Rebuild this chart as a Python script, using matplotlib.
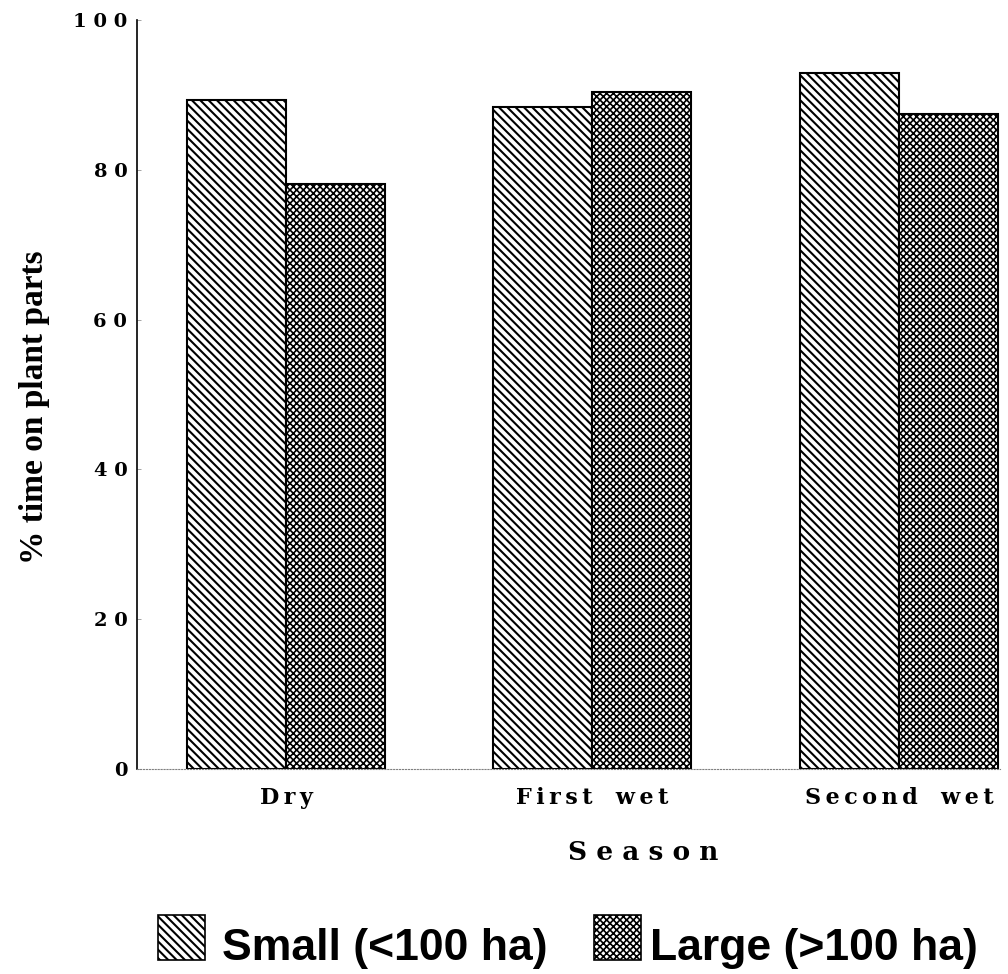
import numpy as np
import matplotlib
matplotlib.use("Agg")
from matplotlib import pyplot as plt
from matplotlib.patches import Rectangle

seasons = ["Dry", "First wet", "Second wet"]
small = [89.3, 88.4, 92.9]
large = [78.1, 90.4, 87.4]
labels = ["Small (<100 ha)", "Large (>100 ha)"]
yticks = [0, 20, 40, 60, 80, 100]

def spaced(s, gap=" ", wgap="  "):
    # wide letter spacing like the original print
    return wgap.join(gap.join(w) for w in s.split(" "))

W, H = 1008, 974
fig = plt.figure(figsize=(W / 100, H / 100), dpi=100)
ax = fig.add_axes([137 / W, 1 - 769 / H, 863 / W, 749 / H])

x = np.arange(len(seasons))
w = 0.323
hatches = ["\\\\\\\\", "xxxxx"]
hlw = [1.5, 1.2]

plt.rcParams["hatch.linewidth"] = hlw[0]
ax.bar(x - w / 2, small, w, facecolor="white", edgecolor="black", linewidth=1.5,
       hatch=hatches[0])
plt.rcParams["hatch.linewidth"] = hlw[1]
ax.bar(x + w / 2, large, w, facecolor="white", edgecolor="black", linewidth=1.5,
       hatch=hatches[1])

ax.set_xlim(-0.486, 2.33)
ax.set_ylim(0, 100)
ax.set_yticks(yticks)
ax.set_yticklabels([spaced(str(v)) for v in yticks],
                   family="DejaVu Serif", fontweight="bold", fontsize=14)
ax.set_xticks(x)
ax.set_xticklabels([spaced(s, "\u2009", "   ") for s in seasons],
                   family="DejaVu Serif", fontweight="bold", fontsize=16)
ax.tick_params(axis="y", direction="in", length=3, width=0.5, colors="gray",
               labelcolor="black", pad=7)
ax.tick_params(axis="x", length=0, pad=13)

for side in ["top", "right"]:
    ax.spines[side].set_visible(False)
ax.spines["left"].set_linewidth(1.2)
ax.spines["bottom"].set_linewidth(0.8)
ax.spines["bottom"].set_linestyle(":")
ax.spines["bottom"].set_color("gray")

fig.text(35 / W, 1 - 407 / H, "% time on plant parts", family="Liberation Serif",
         fontweight="bold", fontsize=24, rotation=90, ha="center", va="center")
ax.set_xlabel(spaced("Season"), family="DejaVu Serif",
              fontweight="bold", fontsize=19, labelpad=22, x=0.586)

# legend drawn by hand: hatched box + label
leg = [(158, 222), (594, 650)]
for (px, tx), lab, hat, lw in zip(leg, labels, hatches, hlw):
    plt.rcParams["hatch.linewidth"] = lw
    fig.patches.append(Rectangle((px / W, 1 - 960 / H), 47 / W, 45 / H,
                                 transform=fig.transFigure, facecolor="white",
                                 edgecolor="black", linewidth=1.2, hatch=hat))
    fig.text(tx / W, 1 - 960 / H, lab, family="Liberation Sans",
             fontweight="bold", fontsize=32, ha="left", va="baseline")

fig.savefig("out.png", dpi=100)
